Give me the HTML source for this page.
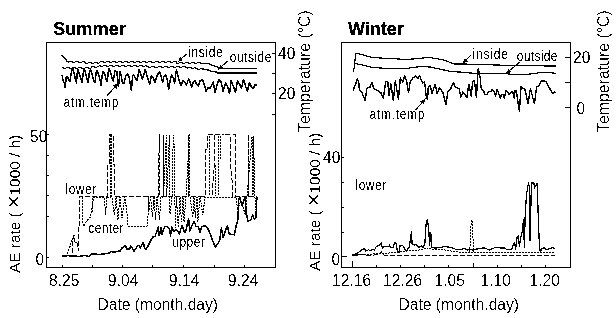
<!DOCTYPE html>
<html><head><meta charset="utf-8"><style>
html,body{margin:0;padding:0;background:#fff;}
svg{display:block;will-change:transform;}
text{font-family:"Liberation Sans",sans-serif;fill:#000;}
text.b{stroke:#000;stroke-width:0.3px;}
</style></head><body>
<svg width="616" height="318" viewBox="0 0 616 318">
<rect width="616" height="318" fill="#fff"/>
<g fill="#000" shape-rendering="crispEdges">
<rect x="46" y="42" width="230" height="1"/>
<rect x="46" y="267" width="230" height="1"/>
<rect x="46" y="42" width="1" height="226"/>
<rect x="275" y="42" width="1" height="226"/>
<rect x="341" y="42" width="230" height="1"/>
<rect x="341" y="267" width="230" height="1"/>
<rect x="341" y="42" width="1" height="226"/>
<rect x="570" y="42" width="1" height="226"/>
<rect x="47" y="134" width="2" height="1"/>
<rect x="47" y="155" width="2" height="1"/>
<rect x="47" y="175" width="2" height="1"/>
<rect x="47" y="195" width="2" height="1"/>
<rect x="47" y="216" width="2" height="1"/>
<rect x="47" y="257" width="2" height="1"/>
<rect x="272" y="53" width="3" height="1"/>
<rect x="272" y="73" width="3" height="1"/>
<rect x="272" y="93" width="3" height="1"/>
<rect x="272" y="114" width="3" height="1"/>
<rect x="62" y="265" width="1" height="2"/>
<rect x="92" y="265" width="1" height="2"/>
<rect x="122" y="265" width="1" height="2"/>
<rect x="152" y="265" width="1" height="2"/>
<rect x="183" y="265" width="1" height="2"/>
<rect x="214" y="265" width="1" height="2"/>
<rect x="244" y="265" width="1" height="2"/>
<rect x="342" y="157" width="2" height="1"/>
<rect x="342" y="182" width="2" height="1"/>
<rect x="342" y="207" width="2" height="1"/>
<rect x="342" y="232" width="2" height="1"/>
<rect x="342" y="256" width="5" height="1"/>
<rect x="565" y="57" width="5" height="1"/>
<rect x="565" y="82" width="5" height="1"/>
<rect x="565" y="107" width="5" height="1"/>
<rect x="376" y="265" width="1" height="2"/>
<rect x="400" y="265" width="1" height="2"/>
<rect x="424" y="265" width="1" height="2"/>
<rect x="448" y="265" width="1" height="2"/>
<rect x="497" y="265" width="1" height="2"/>
<rect x="521" y="265" width="1" height="2"/>
<rect x="545" y="265" width="1" height="2"/>
<rect x="473" y="263" width="1" height="4"/>
<rect x="352" y="261" width="1" height="6"/>
<path d="M61,55h1v1h-1zM62,55h1v1h-1zM62,56h1v1h-1zM63,56h1v1h-1zM63,57h1v1h-1zM64,57h1v1h-1zM64,58h1v1h-1zM65,58h1v1h-1zM65,59h1v1h-1zM66,59h1v2h-1zM66,61h1v1h-1zM67,61h1v1h-1zM68,61h1v1h-1zM68,62h1v1h-1zM69,61h1v1h-1zM69,61h1v1h-1zM70,61h1v1h-1zM71,61h1v1h-1zM72,61h1v1h-1zM72,62h1v1h-1zM73,62h1v1h-1zM74,62h1v1h-1zM75,61h1v1h-1zM75,61h1v1h-1zM76,61h1v1h-1zM77,61h1v1h-1zM78,61h1v1h-1zM78,62h1v1h-1zM79,62h1v1h-1zM80,62h1v1h-1zM81,62h1v1h-1zM82,61h1v1h-1zM82,61h1v1h-1zM83,61h1v1h-1zM84,61h1v1h-1zM84,62h1v1h-1zM85,62h1v1h-1zM85,63h1v1h-1zM86,63h1v1h-1zM87,63h1v1h-1zM88,62h1v1h-1zM88,62h1v1h-1zM89,62h1v1h-1zM90,62h1v1h-1zM91,62h1v1h-1zM91,63h1v1h-1zM92,63h1v1h-1zM93,63h1v1h-1zM94,62h1v1h-1zM94,62h1v1h-1zM95,62h1v1h-1zM96,62h1v1h-1zM97,62h1v1h-1zM97,63h1v1h-1zM98,63h1v1h-1zM99,62h1v1h-1zM99,62h1v1h-1zM100,61h1v1h-1zM100,61h1v1h-1zM101,61h1v1h-1zM102,61h1v1h-1zM103,61h1v1h-1zM103,62h1v1h-1zM104,62h1v1h-1zM105,62h1v1h-1zM106,61h1v1h-1zM106,61h1v1h-1zM107,61h1v1h-1zM108,61h1v1h-1zM109,61h1v1h-1zM109,62h1v1h-1zM110,62h1v1h-1zM111,62h1v1h-1zM112,61h1v1h-1zM112,61h1v1h-1zM113,61h1v1h-1zM114,61h1v1h-1zM115,61h1v1h-1zM115,62h1v1h-1zM116,62h1v1h-1zM117,62h1v1h-1zM118,61h1v1h-1zM118,61h1v1h-1zM119,61h1v1h-1zM120,61h1v1h-1zM121,61h1v1h-1zM121,62h1v1h-1zM122,62h1v1h-1zM123,62h1v1h-1zM124,61h1v1h-1zM124,61h1v1h-1zM125,61h1v1h-1zM126,61h1v1h-1zM127,61h1v1h-1zM127,62h1v1h-1zM128,62h1v1h-1zM129,62h1v1h-1zM130,61h1v1h-1zM130,61h1v1h-1zM131,61h1v1h-1zM132,61h1v1h-1zM133,61h1v1h-1zM133,62h1v1h-1zM134,62h1v1h-1zM135,62h1v1h-1zM136,61h1v1h-1zM136,61h1v1h-1zM137,61h1v1h-1zM138,61h1v1h-1zM139,61h1v1h-1zM139,62h1v1h-1zM140,62h1v1h-1zM141,62h1v1h-1zM142,61h1v1h-1zM142,61h1v1h-1zM143,61h1v1h-1zM144,61h1v1h-1zM145,61h1v1h-1zM145,62h1v1h-1zM146,62h1v1h-1zM147,62h1v1h-1zM148,61h1v1h-1zM148,61h1v1h-1zM149,61h1v1h-1zM150,61h1v1h-1zM151,61h1v1h-1zM151,62h1v1h-1zM152,62h1v1h-1zM153,62h1v1h-1zM154,62h1v1h-1zM155,61h1v1h-1zM155,61h1v1h-1zM156,61h1v1h-1zM157,61h1v1h-1zM158,61h1v1h-1zM158,62h1v1h-1zM159,62h1v1h-1zM160,62h1v1h-1zM161,61h1v1h-1zM161,61h1v1h-1zM162,61h1v1h-1zM163,61h1v1h-1zM164,61h1v1h-1zM164,62h1v1h-1zM165,62h1v1h-1zM166,62h1v1h-1zM167,61h1v1h-1zM167,61h1v1h-1zM168,61h1v1h-1zM169,61h1v1h-1zM170,61h1v1h-1zM170,62h1v1h-1zM171,62h1v1h-1zM172,62h1v1h-1zM173,61h1v1h-1zM173,61h1v1h-1zM174,61h1v1h-1zM175,61h1v1h-1zM176,61h1v2h-1zM176,63h1v1h-1zM177,63h1v1h-1zM178,63h1v1h-1zM179,62h1v1h-1zM179,62h1v1h-1zM180,62h1v1h-1zM181,62h1v1h-1zM182,62h1v1h-1zM182,63h1v1h-1zM183,63h1v1h-1zM184,63h1v1h-1zM185,62h1v1h-1zM185,62h1v1h-1zM186,62h1v1h-1zM187,62h1v1h-1zM188,62h1v1h-1zM188,63h1v1h-1zM189,63h1v1h-1zM190,63h1v1h-1zM191,62h1v1h-1zM191,62h1v1h-1zM192,62h1v1h-1zM193,62h1v1h-1zM194,62h1v1h-1zM194,63h1v1h-1zM195,63h1v1h-1zM196,63h1v1h-1zM197,62h1v1h-1zM197,62h1v1h-1zM198,62h1v1h-1zM199,62h1v1h-1zM200,62h1v1h-1zM200,63h1v1h-1z"/>
<path d="M62,67h1v1h-1zM63,67h1v1h-1zM63,68h1v1h-1zM64,68h1v1h-1zM65,68h1v1h-1zM66,67h1v1h-1zM66,67h1v1h-1zM67,67h1v1h-1zM68,67h1v1h-1zM69,67h1v1h-1zM69,68h1v1h-1zM70,68h1v1h-1zM71,68h1v1h-1zM72,67h1v1h-1zM72,67h1v1h-1zM73,67h1v1h-1zM74,67h1v1h-1zM75,67h1v1h-1zM75,68h1v1h-1zM76,68h1v1h-1zM77,68h1v1h-1zM78,67h1v1h-1zM78,67h1v1h-1zM79,67h1v1h-1zM80,67h1v1h-1zM81,67h1v1h-1zM81,68h1v1h-1zM82,68h1v1h-1zM83,68h1v1h-1zM84,68h1v1h-1zM85,67h1v1h-1zM85,67h1v1h-1zM86,67h1v1h-1zM87,67h1v1h-1zM88,67h1v1h-1zM88,68h1v1h-1zM89,68h1v1h-1zM90,68h1v1h-1zM91,66h1v2h-1zM91,66h1v1h-1zM92,66h1v1h-1zM93,66h1v1h-1zM94,66h1v1h-1zM94,67h1v1h-1zM95,67h1v1h-1zM96,67h1v1h-1zM97,66h1v1h-1zM97,66h1v1h-1zM98,66h1v1h-1zM99,65h1v1h-1zM99,65h1v1h-1zM100,65h1v1h-1zM100,66h1v1h-1zM101,66h1v1h-1zM102,66h1v1h-1zM103,65h1v1h-1zM103,65h1v1h-1zM104,65h1v1h-1zM105,65h1v1h-1zM106,65h1v1h-1zM106,66h1v1h-1zM107,66h1v1h-1zM108,66h1v1h-1zM109,65h1v1h-1zM109,65h1v1h-1zM110,65h1v1h-1zM111,65h1v1h-1zM112,65h1v1h-1zM112,66h1v1h-1zM113,66h1v1h-1zM114,66h1v1h-1zM115,65h1v1h-1zM115,65h1v1h-1zM116,65h1v1h-1zM117,65h1v1h-1zM118,65h1v1h-1zM118,66h1v1h-1zM119,66h1v1h-1zM120,66h1v1h-1zM121,65h1v1h-1zM121,65h1v1h-1zM122,65h1v1h-1zM123,65h1v1h-1zM124,65h1v1h-1zM124,66h1v1h-1zM125,66h1v1h-1zM126,66h1v1h-1zM127,65h1v1h-1zM127,65h1v1h-1zM128,65h1v1h-1zM129,65h1v1h-1zM130,65h1v1h-1zM130,66h1v1h-1zM131,66h1v1h-1zM132,66h1v1h-1zM133,65h1v1h-1zM133,65h1v1h-1zM134,65h1v1h-1zM135,65h1v1h-1zM136,65h1v1h-1zM136,66h1v1h-1zM137,66h1v1h-1zM138,66h1v1h-1zM139,65h1v1h-1zM139,65h1v1h-1zM140,65h1v1h-1zM141,65h1v1h-1zM142,65h1v1h-1zM142,66h1v1h-1zM143,66h1v1h-1zM144,66h1v1h-1zM145,65h1v1h-1zM145,65h1v1h-1zM146,65h1v1h-1zM146,66h1v1h-1zM147,66h1v1h-1zM148,66h1v1h-1zM148,67h1v1h-1zM149,67h1v1h-1zM150,67h1v1h-1zM151,66h1v1h-1zM151,66h1v1h-1zM152,66h1v1h-1zM153,66h1v1h-1zM154,66h1v1h-1zM154,67h1v1h-1zM155,67h1v1h-1zM156,67h1v1h-1zM157,67h1v1h-1zM158,66h1v1h-1zM158,66h1v1h-1zM159,66h1v1h-1zM160,66h1v1h-1zM161,66h1v1h-1zM161,67h1v1h-1zM162,67h1v1h-1zM163,67h1v1h-1zM164,66h1v1h-1zM164,66h1v1h-1zM165,66h1v1h-1zM166,66h1v1h-1zM167,66h1v1h-1zM167,67h1v1h-1zM168,67h1v1h-1zM169,67h1v1h-1zM170,66h1v1h-1zM170,66h1v1h-1zM171,66h1v1h-1zM172,66h1v1h-1zM173,66h1v1h-1zM173,67h1v1h-1zM174,67h1v1h-1zM175,67h1v1h-1zM176,66h1v1h-1zM176,66h1v1h-1zM177,66h1v1h-1zM178,66h1v1h-1zM179,66h1v1h-1zM179,67h1v1h-1zM180,67h1v1h-1zM181,67h1v1h-1zM182,66h1v1h-1zM182,66h1v1h-1zM183,66h1v1h-1zM184,66h1v1h-1zM185,66h1v1h-1zM185,67h1v1h-1zM186,67h1v1h-1zM187,67h1v1h-1zM187,68h1v1h-1zM188,67h1v1h-1zM188,67h1v1h-1zM189,67h1v1h-1zM190,67h1v1h-1zM191,67h1v1h-1zM191,68h1v1h-1zM192,68h1v1h-1zM193,68h1v1h-1zM194,67h1v1h-1zM194,67h1v1h-1zM195,67h1v1h-1zM195,68h1v1h-1zM196,68h1v1h-1zM197,68h1v1h-1zM197,69h1v1h-1zM198,69h1v1h-1zM199,69h1v1h-1zM200,68h1v1h-1zM200,68h1v1h-1z"/>
<rect x="62" y="256" width="5" height="1"/>
<rect x="352" y="254" width="6" height="2"/>
<polygon points="178.0,62.0 180.1,57.0 183.1,60.2"/>
<polygon points="218.2,69.6 220.4,64.6 223.4,67.9"/>
<polygon points="118.9,82.6 116.6,88.6 113.2,85.5"/>
<polygon points="462.7,63.3 464.8,58.2 467.8,61.4"/>
<polygon points="506.1,73.5 508.5,68.6 511.3,72.0"/>
<polygon points="425.8,98.3 423.6,104.3 420.1,101.3"/>
</g>
<g fill="none" stroke="#000" stroke-width="1.4" stroke-linejoin="round" shape-rendering="crispEdges">
<polyline points="200.0,63.5 208.8,63.5 212.7,65.7 217.3,66.7 219.2,68.5 257.0,68.5" stroke-width="1.2"/>
<polyline points="200.0,68.5 206.9,69.6 211.4,71.3 216.0,71.9 218.0,73.0 257.0,73.0" />
<polyline points="62.0,74.6 62.9,80.4 64.5,83.6 65.3,87.7 66.1,77.1 67.4,76.3 69.0,80.4 69.8,81.6 71.4,72.2 72.7,67.3 73.5,70.5 74.7,76.3 76.4,82.8 77.2,73.8 77.6,68.9 78.8,72.2 81.3,80.4 82.1,82.8 83.3,72.2 84.1,68.5 85.3,72.2 87.4,80.4 88.2,82.4 89.4,72.2 90.5,69.7 92.1,74.6 94.1,81.2 95.0,82.4 96.2,72.2 97.0,70.5 98.6,74.6 100.3,81.2 101.1,85.3 102.3,74.6 103.1,71.4 104.8,74.6 106.4,80.4 107.2,81.2 108.4,71.4 109.1,68.5 110.5,72.2 112.5,79.5 113.3,81.2 115.0,70.5 116.9,71.9 117.8,81.6 118.6,86.0 120.0,71.9 121.3,76.3 122.6,83.4 123.9,83.8 125.7,75.9 127.4,74.1 129.2,77.2 130.5,85.1 131.4,90.4 132.7,75.4 133.6,74.6 134.9,77.2 137.1,80.7 138.4,73.7 139.3,69.3 140.6,73.7 142.4,79.0 144.2,73.7 145.3,69.3 146.6,74.6 148.4,79.8 149.7,84.2 151.5,75.4 153.2,78.1 155.0,82.5 157.2,75.4 159.4,71.5 161.2,76.3 162.5,82.5 163.8,77.2 165.6,74.6 167.3,79.8 168.6,89.5 170.4,79.0 171.7,74.6 173.0,77.2 174.6,83.4 176.0,71.9 176.4,70.2 177.7,74.6 179.0,79.8 180.8,85.6 183.4,80.3 186.5,85.1 188.7,78.5 191.8,86.9 193.6,81.6 194.9,80.3 196.6,84.2 198.4,86.0 200.2,80.7 202.5,79.6 204.5,85.1 206.0,91.2 208.0,87.2 210.0,88.7 213.1,82.1 215.1,92.2 218.6,79.6 221.1,82.1 223.1,91.2 225.7,82.6 227.7,87.2 229.6,93.6 231.2,80.7 235.5,92.0 237.6,80.7 239.8,84.5 241.4,88.2 243.5,79.6 247.3,91.4 249.4,82.9 251.5,87.1 253.1,88.7 255.3,84.5 256.9,85.0" stroke-width="1.5"/>
<polyline points="353.6,72.0 355.7,53.8 357.0,53.6 361.4,54.4 370.2,57.0 380.2,58.0 395.3,58.8 405.0,59.5 418.9,58.6 427.7,57.3 432.7,58.0 444.0,60.1 454.0,63.9 460.0,63.9 520.0,65.7 555.6,66.0" stroke-width="1.2"/>
<polyline points="354.0,63.2 360.0,64.5 370.0,67.0 380.2,68.0 395.3,68.9 407.5,68.3 420.1,66.6 430.2,67.0 441.5,69.5 452.8,71.8 460.0,72.0 472.6,73.2 497.7,73.2 520.0,74.8 530.5,74.0 543.0,72.2 555.6,73.2" stroke-width="1.2"/>
<polyline points="353.5,90.7 354.4,86.3 355.7,83.8 357.5,78.8 358.8,82.5 359.4,90.1 362.0,92.6 363.2,95.8 365.1,100.2 367.0,88.2 370.1,87.0 372.0,82.5 373.9,88.8 377.0,90.1 380.8,92.6 383.3,98.3 385.8,81.3 387.7,81.3 389.0,95.1 390.9,83.8 393.4,100.8 395.3,80.7 398.4,99.5 400.3,78.1 402.8,81.9 404.7,75.6 406.9,82.6 408.5,92.6 410.0,82.6 412.5,78.2 415.7,75.7 418.2,78.8 419.5,75.7 421.4,80.0 422.6,83.2 424.5,82.0 425.1,86.4 426.4,97.7 427.6,98.9 428.3,86.4 430.2,85.7 432.0,93.3 435.2,84.5 437.1,93.3 439.6,87.6 442.7,92.0 445.9,104.6 447.8,92.0 450.3,89.5 453.4,82.6 455.3,87.0 459.1,88.9 461.0,97.0 462.9,92.0 465.0,94.0 466.9,97.7 468.8,84.5 471.3,96.5 472.6,81.4 474.5,80.8 476.4,97.7 478.2,68.8 479.5,73.8 480.5,80.0 480.9,86.8 482.0,89.8 483.9,91.7 484.7,94.3 487.3,94.3 488.5,91.7 491.8,91.3 491.8,89.4 493.7,90.6 495.6,95.8 497.1,89.4 498.3,92.5 500.2,98.1 501.7,94.3 503.2,94.3 504.3,98.1 506.2,90.6 509.2,94.3 510.7,92.5 512.6,91.7 514.1,98.1 515.2,90.6 516.3,90.9 519.4,111.4 521.0,87.0 524.9,89.4 528.1,103.5 530.4,88.6 534.4,103.5 536.7,87.0 539.1,85.4 541.4,80.7 546.2,81.5 549.3,87.8 552.5,93.3 555.6,91.7" />
<polyline points="62.0,255.7 67.6,255.7 79.2,256.4 85.0,255.5 89.0,256.4 91.8,253.7 100.0,254.5 109.4,253.0 111.0,251.6 113.8,252.2 118.0,251.2 120.3,251.2 121.8,248.2 122.9,247.5 124.8,245.6 125.9,246.7 126.7,249.0 129.7,249.0 130.5,245.6 132.0,247.1 133.8,251.2 135.4,249.4 137.2,246.0 138.8,245.6 140.3,247.8 142.2,244.5 143.3,242.6 144.8,248.6 145.9,249.4 147.4,247.1 148.9,244.1 149.4,243.3 151.3,239.5 152.7,237.2 155.1,236.2 156.5,232.0 157.4,230.1 158.4,226.8 158.8,235.8 159.8,233.4 161.2,227.3 162.2,234.8 163.1,230.1 165.0,226.3 167.3,226.3 169.2,228.7 170.6,235.8 171.6,226.8 173.0,230.1 173.9,231.5 176.0,229.5 177.9,231.3 179.3,234.2 180.7,229.5 182.1,225.2 183.5,229.9 185.0,232.8 186.4,229.0 187.8,221.0 188.7,219.1 189.7,230.9 191.1,227.6 193.0,223.3 194.4,221.4 195.8,226.2 198.2,226.6 200.1,232.3 201.5,227.1 203.4,226.2 206.0,226.2 208.5,229.6 211.1,236.5 214.5,245.2 215.7,246.9 218.0,243.4 219.7,240.0 221.4,227.9 223.2,237.4 225.8,229.6 227.5,226.1 229.2,233.9 234.4,234.8 236.1,226.1 237.9,219.2 238.7,200.2 239.6,196.7 242.2,206.2 244.8,196.7 246.5,214.0 247.9,221.0 250.8,220.1 252.6,214.9 254.3,219.2 256.0,217.5 256.9,196.7" stroke-width="1.5"/>
<polyline points="67.5,255.0 72.6,255.0 72.6,243.0 74.1,235.0 75.1,243.0 76.1,242.0 77.0,243.0 78.1,248.0 78.6,251.0 78.6,228.0 79.5,227.0 79.5,196.5 107.5,196.5 107.5,164.0 109.0,164.0 109.0,134.5 113.0,134.5 113.0,164.0 114.5,164.0 114.5,196.5 158.5,196.5 158.5,156.0 159.5,150.0 159.5,134.5 160.0,196.5 188.0,196.5 188.0,134.5 188.5,196.5 200.0,196.5" stroke-dasharray="5,2" stroke-width="1"/>
<polyline points="82.2,197.0 82.2,222.8 84.0,226.0 86.6,221.0 90.4,217.2 92.5,205.0 94.1,197.0 96.0,197.0 104.5,197.0 105.5,215.0 107.0,197.0 110.6,197.0 110.6,135.0 111.8,135.0 111.8,197.0 114.5,215.0 116.0,197.0 118.0,220.0 120.0,197.0 122.0,218.0 124.9,197.0 126.2,207.0 127.4,217.0 128.0,226.0 147.0,226.0 148.2,214.6 148.5,197.0 149.0,211.0 150.5,197.0 152.5,217.0 154.0,197.0 155.5,220.0 157.0,197.0 159.5,220.0 161.0,197.0 163.2,197.0 163.2,135.0 163.5,197.0 166.4,135.0 166.6,197.0 169.5,135.0 170.0,214.0 172.0,197.0 173.3,135.0 174.5,150.0 175.2,227.7 176.5,197.0 178.3,227.7 180.0,197.0 181.5,222.0 183.0,197.0 184.0,222.0 186.0,197.0 189.5,135.0 190.0,197.0 192.8,217.6 194.0,197.0 195.3,217.6 197.0,197.0 197.8,222.0 200.0,197.0 202.9,215.0 205.0,197.0 236.0,197.0 237.7,210.0 241.0,200.0 245.3,215.0 247.0,197.0 252.0,136.0 253.0,197.0 253.5,136.0 255.3,210.0 256.5,197.0" stroke-dasharray="2,1" stroke-width="1"/>
<polyline points="200.0,196.5 205.5,196.5 205.5,149.0 207.0,149.0 207.0,134.5 223.5,134.5" stroke-dasharray="5,2" stroke-width="1"/>
<polyline points="214.0,134.5 214.0,170.0 212.5,190.0 213.0,196.5" stroke-dasharray="5,2" stroke-width="1"/>
<polyline points="225.0,134.5 230.0,134.5 230.0,160.0 232.0,180.0 232.5,196.5 256.5,196.5" stroke-dasharray="5,2" stroke-width="1"/>
<polyline points="233.4,134.5 235.6,134.5 235.6,196.5" stroke-dasharray="5,2" stroke-width="1"/>
<polyline points="248.5,196.5 248.5,134.5 249.0,196.5" stroke-dasharray="5,2" stroke-width="1"/>
<polyline points="209.2,136.0 209.2,196.0" stroke-dasharray="2,1" stroke-width="1"/>
<polyline points="215.8,165.0 215.8,196.0" stroke-dasharray="2,1" stroke-width="1"/>
<polyline points="218.5,136.0 218.5,196.0" stroke-dasharray="2,1" stroke-width="1"/>
<polyline points="220.2,136.0 220.2,160.0" stroke-dasharray="2,1" stroke-width="1"/>
<polyline points="67.0,253.5 70.0,246.5 71.1,243.0 74.1,235.0" stroke-dasharray="2,1" stroke-width="1"/>
<polyline points="92.8,198.0 92.8,212.0" stroke-dasharray="2,1" stroke-width="1"/>
<polyline points="352.0,254.3 356.6,254.0 360.2,251.1 364.4,248.3 365.8,251.1 368.5,249.7 370.0,250.6 372.7,249.7 374.5,250.0 376.1,246.9 378.2,245.5 380.3,244.5 381.3,242.4 382.4,248.3 383.9,246.2 389.3,246.2 389.3,244.7 390.7,247.2 393.0,247.2 395.1,242.3 396.5,244.7 397.5,252.5 399.0,252.5 400.0,245.7 402.4,245.2 404.3,248.1 406.3,251.1 409.2,247.2 410.7,237.9 411.4,232.0 412.1,243.8 414.0,245.0 416.5,244.7 419.0,247.7 421.4,245.7 423.0,247.5 424.8,244.3 426.0,224.7 427.2,219.3 428.7,228.3 429.6,245.3 430.8,232.8 431.6,247.7 435.8,248.0 440.0,247.7 441.7,247.7 442.7,246.2 449.5,247.2 452.0,247.7 456.3,249.6 462.0,249.6 464.0,248.1 467.0,250.0 470.9,249.6 473.0,250.0 478.7,248.6 482.6,248.1 484.0,248.0 486.0,248.5 488.7,249.9 490.0,249.9 492.5,248.5 494.0,248.0 497.2,247.1 500.0,248.0 504.8,248.0 506.6,249.5 508.0,249.0 510.0,249.9 512.3,248.5 513.2,244.7 514.7,242.4 515.6,249.9 517.0,237.7 518.4,235.8 519.4,246.2 520.8,237.7 522.2,232.0 523.4,220.0 524.4,247.7 525.1,218.0 525.7,207.6 526.4,195.6 527.6,187.4 528.6,183.0 529.5,188.7 530.1,240.8 531.4,183.0 533.9,183.0 534.5,188.0 535.8,185.5 537.0,183.0 537.7,198.8 538.3,218.0 539.3,243.6 540.3,251.9 541.7,249.1 544.4,247.7 546.5,249.8 552.7,247.7 554.8,248.4" stroke-width="1.25"/>
<polyline points="352.0,255.0 383.9,253.5 394.6,252.5 399.5,251.6 409.2,250.6 419.0,250.1 426.7,248.0 432.0,249.0 442.7,249.6 454.3,251.6 464.0,252.5 488.4,252.5 555.0,252.0" stroke-dasharray="2,1" stroke-width="1"/>
<polyline points="352.0,254.5 371.0,255.3 378.7,254.5 381.3,251.4 382.7,254.9 386.0,255.3 555.0,255.3" stroke-dasharray="5,2" stroke-width="1"/>
<polyline points="469.8,252.0 471.2,221.0 472.2,220.5 473.6,252.0" stroke-dasharray="2,1" stroke-width="1"/>
<line x1="186.5" y1="54" x2="178" y2="62" stroke-width="1"/>
<line x1="227.6" y1="61.1" x2="218.2" y2="69.6" stroke-width="1"/>
<line x1="107.1" y1="95.7" x2="118.9" y2="82.6" stroke-width="1"/>
<line x1="470.7" y1="55.6" x2="462.7" y2="63.3" stroke-width="1"/>
<line x1="519.7" y1="62.1" x2="506.1" y2="73.5" stroke-width="1"/>
<line x1="415.7" y1="110" x2="425.8" y2="98.3" stroke-width="1"/>
</g>
<defs><filter id="th" x="0" y="0" width="616" height="318" filterUnits="userSpaceOnUse"><feComponentTransfer><feFuncA type="discrete" tableValues="0 1"/></feComponentTransfer></filter><filter id="th2" x="0" y="0" width="616" height="318" filterUnits="userSpaceOnUse"><feComponentTransfer><feFuncA type="discrete" tableValues="0 0 0 0 0 0 0 0 0 0 0 1 1 1 1 1 1 1 1 1"/></feComponentTransfer></filter></defs>
<g filter="url(#th2)">
<text x="0" y="0" font-size="18.25" font-weight="bold" letter-spacing="0.0" transform="translate(53.0,35.0) scale(1,1.0)" class="b">Summer</text>
<text x="0" y="0" font-size="18.0" font-weight="bold" letter-spacing="0.0" transform="translate(348.0,35.0) scale(1,1.0)" class="b">Winter</text>
<text x="0" y="0" font-size="15.6" font-weight="normal" letter-spacing="0.0" transform="translate(49.0,285.5) scale(1,1.0)">8.25</text>
<text x="0" y="0" font-size="15.6" font-weight="normal" letter-spacing="0.0" transform="translate(108.0,285.5) scale(1,1.0)">9.04</text>
<text x="0" y="0" font-size="15.6" font-weight="normal" letter-spacing="0.0" transform="translate(169.0,285.5) scale(1,1.0)">9.14</text>
<text x="0" y="0" font-size="15.6" font-weight="normal" letter-spacing="0.0" transform="translate(228.0,285.5) scale(1,1.0)">9.24</text>
<text x="0" y="0" font-size="15.6" font-weight="normal" letter-spacing="0.0" transform="translate(332.0,285.5) scale(1,1.0)">12.16</text>
<text x="0" y="0" font-size="15.6" font-weight="normal" letter-spacing="0.0" transform="translate(383.0,285.5) scale(1,1.0)">12.26</text>
<text x="0" y="0" font-size="15.6" font-weight="normal" letter-spacing="0.0" transform="translate(434.5,285.5) scale(1,1.0)">1.05</text>
<text x="0" y="0" font-size="15.6" font-weight="normal" letter-spacing="0.0" transform="translate(480.5,285.5) scale(1,1.0)">1.10</text>
<text x="0" y="0" font-size="15.6" font-weight="normal" letter-spacing="0.0" transform="translate(529.5,285.5) scale(1,1.0)">1.20</text>
<text x="0" y="0" font-size="15.6" font-weight="normal" letter-spacing="0.0" transform="translate(97.5,310.0) scale(1,1.0)">Date (month.day)</text>
<text x="0" y="0" font-size="15.6" font-weight="normal" letter-spacing="0.0" transform="translate(398.5,310.0) scale(1,1.0)">Date (month.day)</text>
<text x="0" y="0" font-size="15.6" font-weight="normal" letter-spacing="0.0" transform="translate(30.0,142.0) scale(1,1.0)">50</text>
<text x="0" y="0" font-size="15.6" font-weight="normal" letter-spacing="0.0" transform="translate(35.5,264.5) scale(1,1.0)">0</text>
<text x="0" y="0" font-size="15.6" font-weight="normal" letter-spacing="0.0" transform="translate(323.0,163.0) scale(1,1.0)">40</text>
<text x="0" y="0" font-size="15.6" font-weight="normal" letter-spacing="0.0" transform="translate(331.5,265.0) scale(1,1.0)">0</text>
<text x="0" y="0" font-size="15.6" font-weight="normal" letter-spacing="0.0" transform="translate(278.0,59.0) scale(1,1.0)">40</text>
<text x="0" y="0" font-size="15.6" font-weight="normal" letter-spacing="0.0" transform="translate(278.0,99.0) scale(1,1.0)">20</text>
<text x="0" y="0" font-size="15.6" font-weight="normal" letter-spacing="0.0" transform="translate(573.0,63.0) scale(1,1.0)">20</text>
<text x="0" y="0" font-size="15.6" font-weight="normal" letter-spacing="0.0" transform="translate(576.5,114.0) scale(1,1.0)">0</text>
<text x="0" y="0" font-size="15.86" font-weight="normal" transform="translate(309.5,132.0) rotate(-90) scale(1,1.0)">Temperature (°C)</text>
<text x="0" y="0" font-size="15.86" font-weight="normal" transform="translate(608.5,132.0) rotate(-90) scale(1,1.0)">Temperature (°C)</text>
<text x="0" y="0" font-size="15.38" font-weight="normal" transform="translate(20.0,273.0) rotate(-90) scale(1,1.0)">AE rate ( <tspan font-size="1.4em" dy="0.6">×</tspan><tspan dy="-0.6">1000 / h)</tspan></text>
<text x="0" y="0" font-size="15.38" font-weight="normal" transform="translate(320.0,271.0) rotate(-90) scale(1,1.0)">AE rate ( <tspan font-size="1.4em" dy="0.6">×</tspan><tspan dy="-0.6">1000 / h)</tspan></text>
</g>
<g filter="url(#th)">
<text x="0" y="0" font-size="12.0" font-weight="normal" letter-spacing="0.6" transform="translate(188.25,57.0) scale(1,1.2)" class="s">inside</text>
<text x="0" y="0" font-size="12.0" font-weight="normal" letter-spacing="0.5" transform="translate(229.75,61.5) scale(1,1.2)" class="s">outside</text>
<text x="0" y="0" font-size="12.0" font-weight="normal" letter-spacing="0.71" transform="translate(63.5,106.5) scale(1,1.2)" class="s">atm.temp</text>
<text x="0" y="0" font-size="12.0" font-weight="normal" letter-spacing="0.5" transform="translate(65.5,193.5) scale(1,1.2)" class="s">lower</text>
<text x="0" y="0" font-size="12.0" font-weight="normal" letter-spacing="0.4" transform="translate(88.25,233.0) scale(1,1.2)" class="s">center</text>
<text x="0" y="0" font-size="12.0" font-weight="normal" letter-spacing="0.5" transform="translate(172.25,246.5) scale(1,1.2)" class="s">upper</text>
<text x="0" y="0" font-size="12.0" font-weight="normal" letter-spacing="0.8" transform="translate(472.5,58.5) scale(1,1.2)" class="s">inside</text>
<text x="0" y="0" font-size="12.0" font-weight="normal" letter-spacing="0.33" transform="translate(516.75,60.5) scale(1,1.2)" class="s">outside</text>
<text x="0" y="0" font-size="12.0" font-weight="normal" letter-spacing="0.71" transform="translate(369.5,119.0) scale(1,1.2)" class="s">atm.temp</text>
<text x="0" y="0" font-size="12.0" font-weight="normal" letter-spacing="0.5" transform="translate(355.5,189.5) scale(1,1.2)" class="s">lower</text>
</g>
</svg></body></html>
